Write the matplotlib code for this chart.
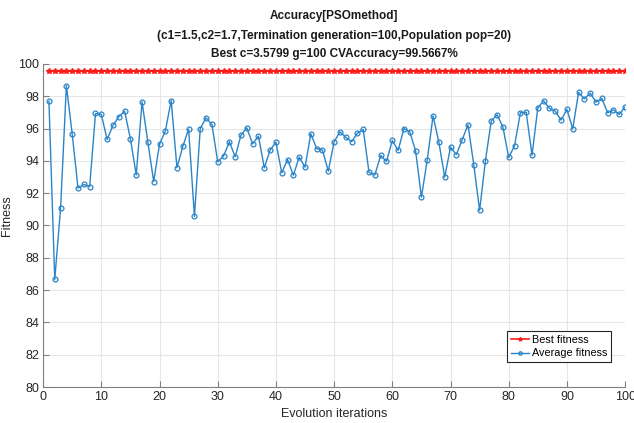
import numpy as np
import matplotlib
matplotlib.use('Agg')
import matplotlib.pyplot as plt

plt.rcParams['font.family'] = ['Liberation Sans', 'DejaVu Sans']

# data
iterations = list(range(1, 101))
best_fitness = [99.5667] * 100
avg_fitness = [
    97.69, 86.66, 91.05, 98.66, 95.65, 92.31, 92.54, 92.41, 96.93, 96.87,
    95.32, 96.19, 96.72, 97.07, 95.36, 93.13, 97.65, 95.15, 92.72, 95.03,
    95.84, 97.73, 93.57, 94.89, 95.96, 90.56, 96.00, 96.66, 96.25, 93.94,
    94.29, 95.18, 94.25, 95.59, 96.04, 95.05, 95.53, 93.57, 94.66, 95.15,
    93.26, 94.08, 93.11, 94.23, 93.61, 95.67, 94.76, 94.66, 93.36, 95.18,
    95.79, 95.46, 95.18, 95.71, 95.94, 93.28, 93.13, 94.33, 93.96, 95.26,
    94.64, 96.00, 95.79, 94.62, 91.75, 94.06, 96.78, 95.15, 92.99, 94.85,
    94.39, 95.30, 96.23, 93.75, 90.93, 94.02, 96.47, 96.85, 96.10, 94.21,
    94.93, 96.97, 97.01, 94.35, 97.28, 97.71, 97.24, 97.07, 96.52, 97.18,
    95.98, 98.23, 97.84, 98.19, 97.63, 97.86, 96.97, 97.15, 96.87, 97.34,
]
title_lines = ['Accuracy[PSOmethod]',
               '(c1=1.5,c2=1.7,Termination generation=100,Population pop=20)',
               'Best c=3.5799 g=100 CVAccuracy=99.5667%']

fig = plt.figure(figsize=(6.34, 4.23), dpi=100)
ax = fig.add_axes([0.068, 0.085, 0.918, 0.764])

ax.plot(iterations, best_fitness, color='#ff1a1a', lw=1.2, marker='*',
        markersize=4, label='Best fitness')
ax.plot(iterations, avg_fitness, color='#2a84c8', lw=1.0, marker='o',
        markersize=3.5, markerfacecolor='none', markeredgewidth=0.9,
        label='Average fitness')

ax.set_xlim(0, 100)
ax.set_ylim(80, 100)
ax.set_xticks(np.arange(0, 101, 10))
ax.set_yticks(np.arange(80, 101, 2))
ax.grid(True, color='#e6e6e6', lw=0.8)
ax.set_axisbelow(True)
for s in ['top', 'right']:
    ax.spines[s].set_visible(False)
for s in ['left', 'bottom']:
    ax.spines[s].set_color('#808080')
ax.tick_params(direction='in', colors='#808080', labelcolor='#262626',
               labelsize=9, length=4, pad=3)

ax.set_xlabel('Evolution iterations', fontsize=9, color='#262626')
ax.xaxis.set_label_coords(0.5, -0.064)
ax.set_ylabel('Fitness', fontsize=9, color='#262626')
ax.yaxis.set_label_coords(-0.052, 0.53)

leg = ax.legend(loc='lower right', bbox_to_anchor=(0.985, 0.06), fontsize=7.8,
                fancybox=False, framealpha=1, edgecolor='#262626',
                handlelength=1.6, handletextpad=0.3, borderpad=0.35,
                labelspacing=0.3, markerscale=0.7)
leg.get_frame().set_linewidth(0.8)

for y, t in zip([0.963, 0.915, 0.872], title_lines):
    fig.text(0.527, y, t, ha='center', va='center', fontsize=8.5,
             fontweight='bold', color='#1a1a1a')

fig.savefig('out.png', dpi=100)
